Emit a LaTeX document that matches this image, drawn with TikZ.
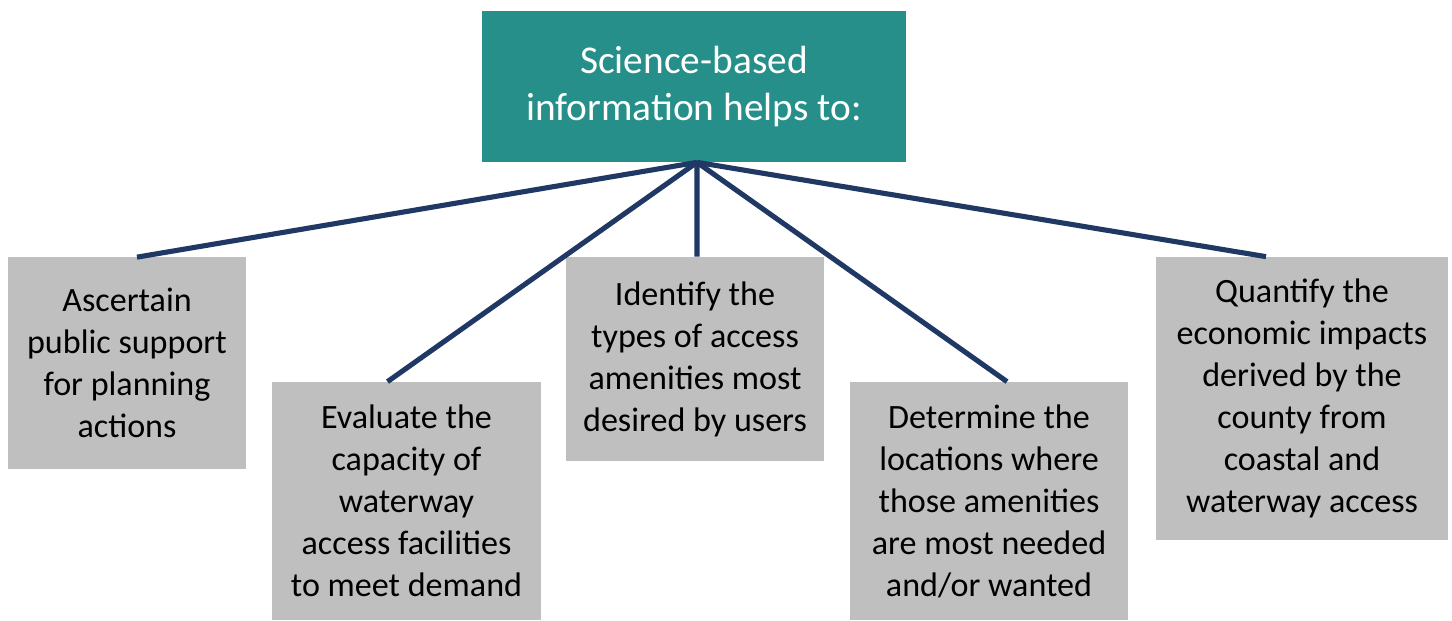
\documentclass[tikz,border=0pt]{standalone}
\usepackage{fontspec}
\setmainfont{Carlito}
\usepackage{tikz}
\usetikzlibrary{positioning}

\definecolor{headteal}{RGB}{38,143,138}
\definecolor{boxgray}{RGB}{191,191,191}
\definecolor{linknavy}{RGB}{31,56,100}

\begin{document}
\begin{tikzpicture}[
  headbox/.style={fill=headteal,text=white,minimum width=8.48cm,minimum height=3.02cm,align=center,font=\fontsize{22.4}{27.3}\selectfont,inner sep=2pt},
  aimbox/.style={fill=boxgray,text=black,align=center,font=\fontsize{19.4}{23.9}\selectfont,inner sep=2pt},
  link/.style={draw=linknavy,line width=2.9pt}
]
\useasboundingbox (0,0) rectangle (29.04,-12.42);
\node[headbox] (head) at (13.88,-1.73) {Science-based\\information helps to:};
\node[aimbox,minimum width=4.76cm,minimum height=4.22cm] (aim1) at (2.54,-7.26) {Ascertain\\public support\\for planning\\actions};
\node[aimbox,minimum width=5.38cm,minimum height=4.76cm] (aim2) at (8.13,-10.02) {Evaluate the\\capacity of\\waterway\\access facilities\\to meet demand};
\node[aimbox,minimum width=5.16cm,minimum height=4.08cm] (aim3) at (13.90,-7.18) {Identify the\\types of access\\amenities most\\desired by users};
\node[aimbox,minimum width=5.56cm,minimum height=4.76cm] (aim4) at (19.78,-10.02) {Determine the\\locations where\\those amenities\\are most needed\\and/or wanted};
\node[aimbox,minimum width=5.84cm,minimum height=5.66cm] (aim5) at (26.04,-7.97) {Quantify the\\economic impacts\\derived by the\\county from\\coastal and\\waterway access};
% spokes from the heading down to each box
\coordinate (hub) at ([xshift=0.06cm]head.south);
\draw[link] (hub) -- ([xshift=0.2cm]aim1.north);
\draw[link] (hub) -- ([xshift=-0.38cm]aim2.north);
\draw[link] (hub) -- ([xshift=0.04cm]aim3.north);
\draw[link] (hub) -- ([xshift=0.36cm]aim4.north);
\draw[link] (hub) -- ([xshift=-0.72cm]aim5.north);
\end{tikzpicture}
\end{document}
